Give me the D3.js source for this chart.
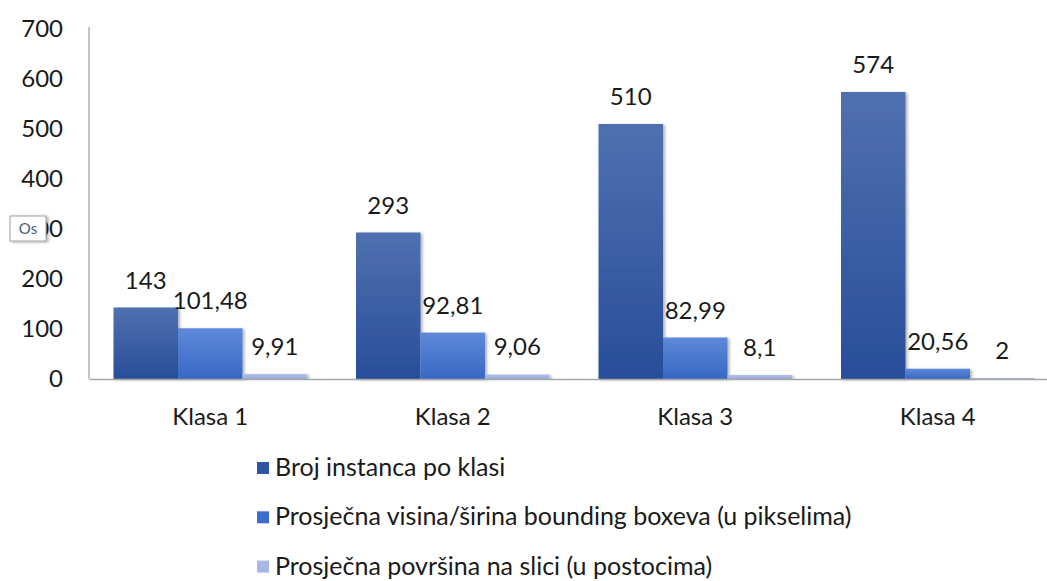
<!DOCTYPE html>
<html>
<head>
<meta charset="utf-8">
<script src="https://cdn.jsdelivr.net/npm/d3@7"></script>
<style>
    body { margin: 0; background: #ffffff; }
    svg { display: block; font-family: Lato, "Open Sans", sans-serif; }
</style>
</head>
<body>
<script>

// categories and series
const categories = ["Klasa 1", "Klasa 2", "Klasa 3", "Klasa 4"];
const seriesNames = [
    "Broj instanca po klasi",
    "Prosječna visina/širina bounding boxeva (u pikselima)",
    "Prosječna površina na slici (u postocima)"
];

// values
const brojInstanci = [143, 293, 510, 574];
const visinaSirina = [101.48, 92.81, 82.99, 20.56];
const povrsina = [9.91, 9.06, 8.1, 2];

const yTicks = [0, 100, 200, 300, 400, 500, 600, 700];

window.onload = function() {
    makeChart();
};


/** Draws the grouped bar chart. */
function makeChart() {

    const w = 1047;
    const h = 581;
    const left = 89;
    const baseline = 379;

    const seriesValues = [brojInstanci, visinaSirina, povrsina];

    // flatten into one record per bar
    let dataset = [];
    categories.forEach(function(cat, i) {
        seriesNames.forEach(function(s, j) {
            dataset.push({cat: cat, series: s, index: j, value: seriesValues[j][i]});
        });
    });

    let svg = d3.select("body")
                .append("svg")
                .attr("width", w)
                .attr("height", h);

    // gradients for the bars
    let defs = svg.append("defs");
    const gradColors = [["#5070b0", "#284e9a"], ["#5e89d8", "#3868c4"], ["#b4c0e6", "#98aadc"]];
    gradColors.forEach(function(c, i) {
        let g = defs.append("linearGradient")
                    .attr("id", "grad" + i)
                    .attr("x1", 0).attr("y1", 0)
                    .attr("x2", 0).attr("y2", 1);
        g.append("stop").attr("offset", "0%").attr("stop-color", c[0]);
        g.append("stop").attr("offset", "100%").attr("stop-color", c[1]);
    });

    let shadow = defs.append("filter")
                     .attr("id", "shadow")
                     .attr("x", "-10%").attr("y", "-10%")
                     .attr("width", "130%").attr("height", "120%");
    shadow.append("feDropShadow")
          .attr("dx", 2).attr("dy", 1)
          .attr("stdDeviation", 1.5)
          .attr("flood-color", "#000")
          .attr("flood-opacity", 0.3);

    const legendColors = ["#2f54a0", "#3e6ecd", "#a8b8e3"];

    // scales
    let xScale = d3.scaleBand()
                   .domain(categories)
                   .range([left, left + 4 * 242.5]);

    let xInner = d3.scaleBand()
                   .domain(seriesNames)
                   .range([0, xScale.bandwidth()])
                   .paddingOuter(0.38);

    let yScale = d3.scaleLinear()
                   .domain([0, 700])
                   .range([baseline, 29]);

    // y axis
    let yAxis = svg.append("g")
                   .attr("transform", "translate(" + left + ",0)")
                   .call(d3.axisLeft(yScale).tickValues(yTicks).tickSize(0).tickPadding(26));
    yAxis.select(".domain").attr("stroke", "#a6a6a6").attr("stroke-width", 1.3)
         .attr("d", "M0," + (yScale(700) - 2) + "V" + baseline);
    yAxis.selectAll("text")
         .attr("font-family", "Lato, sans-serif")
         .attr("font-size", "24px")
         .attr("fill", "#1a1a1a");

    // bars
    svg.selectAll(".bar")
       .data(dataset)
       .enter()
       .append("rect")
       .attr("class", "bar")
       .attr("x", function(d) { return xScale(d.cat) + xInner(d.series); })
       .attr("y", function(d) { return yScale(d.value); })
       .attr("width", xInner.bandwidth())
       .attr("height", function(d) { return baseline - yScale(d.value); })
       .attr("fill", function(d) { return "url(#grad" + d.index + ")"; })
       .attr("filter", "url(#shadow)");

    // x axis line
    let xAxis = svg.append("g")
                   .attr("transform", "translate(0," + baseline + ")")
                   .call(d3.axisBottom(xScale).tickSize(0).tickPadding(29));
    xAxis.select(".domain").attr("stroke", "#a6a6a6").attr("stroke-width", 1.3);
    xAxis.selectAll("text")
         .attr("font-family", "Lato, sans-serif")
         .attr("font-size", "24px")
         .attr("fill", "#1a1a1a");

    // value labels
    svg.selectAll(".label")
       .data(dataset)
       .enter()
       .append("text")
       .attr("class", "label")
       .attr("x", function(d) { return xScale(d.cat) + xInner(d.series) + xInner.bandwidth() / 2; })
       .attr("y", function(d) { return yScale(d.value) - 19; })
       .attr("text-anchor", "middle")
       .attr("font-size", "24px")
       .attr("fill", "#1a1a1a")
       .text(function(d) { return String(d.value).replace(".", ","); });

    // legend
    let legend = svg.selectAll(".legend")
                    .data(seriesNames)
                    .enter()
                    .append("g")
                    .attr("class", "legend")
                    .attr("transform", function(d, i) {
                        return "translate(257," + (462 + i * 49.3) + ")"; });

    legend.append("rect")
          .attr("width", 12)
          .attr("height", 12)
          .attr("fill", function(d, i) { return legendColors[i]; });

    legend.append("text")
          .attr("x", 18)
          .attr("y", 6)
          .attr("dy", "0.32em")
          .attr("font-size", "25px")
          .attr("fill", "#1a1a1a")
          .text(function(d) { return d; });

    // the little "Os" tooltip box over the 300 tick
    let tip = svg.append("g").attr("transform", "translate(10,216)");
    tip.append("rect")
       .attr("width", 36).attr("height", 25)
       .attr("fill", "#ffffff")
       .attr("stroke", "#a0a0a0")
       .attr("filter", "url(#shadow)");
    tip.append("text")
       .attr("x", 18).attr("y", 18)
       .attr("text-anchor", "middle")
       .attr("font-size", "15px")
       .attr("fill", "#4a5a7a")
       .text("Os");
}
</script>
</body>
</html>
